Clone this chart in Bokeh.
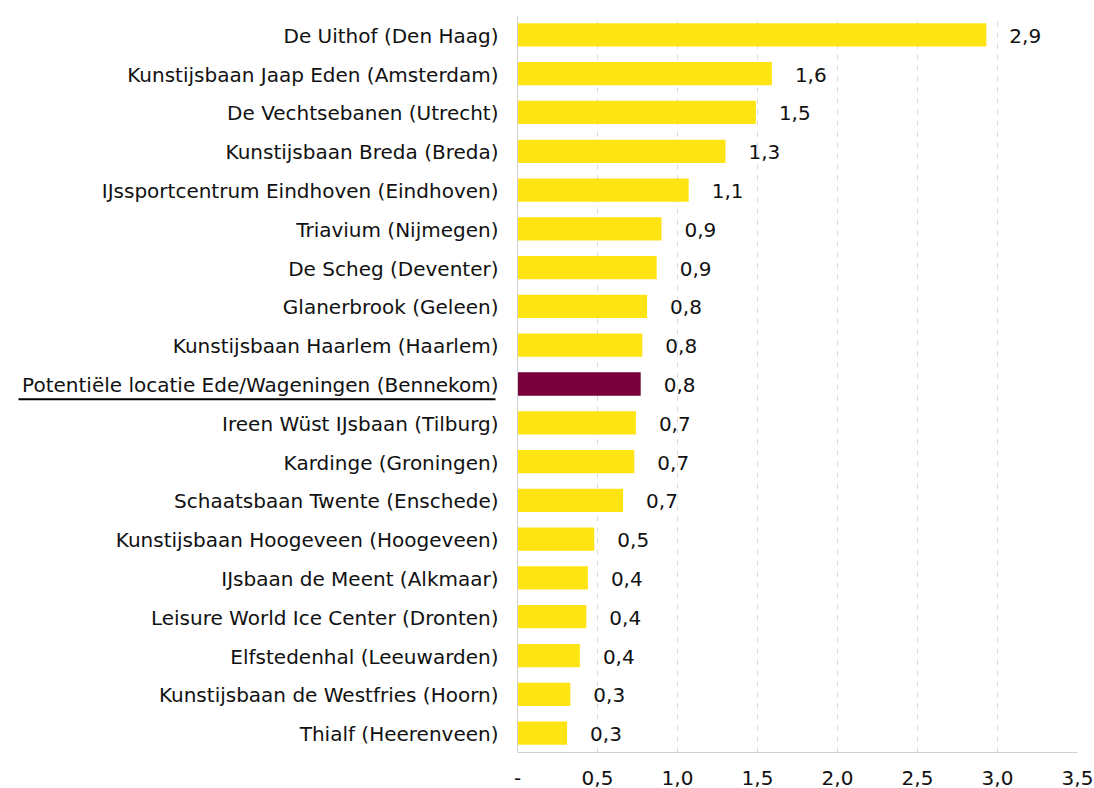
from bokeh.plotting import figure
from bokeh.models import (ColumnDataSource, Range1d, FactorRange, FixedTicker,
                          CustomJSTickFormatter, BoxAnnotation, Span)
from bokeh.embed import file_html
from bokeh.resources import INLINE
from bokeh.core.properties import value

# ---- data (top to bottom as in the chart) ----
categories = [
    "De Uithof (Den Haag)",
    "Kunstijsbaan Jaap Eden (Amsterdam)",
    "De Vechtsebanen (Utrecht)",
    "Kunstijsbaan Breda (Breda)",
    "IJssportcentrum Eindhoven (Eindhoven)",
    "Triavium (Nijmegen)",
    "De Scheg (Deventer)",
    "Glanerbrook (Geleen)",
    "Kunstijsbaan Haarlem (Haarlem)",
    "Potentiële locatie Ede/Wageningen (Bennekom)",
    "Ireen Wüst IJsbaan (Tilburg)",
    "Kardinge (Groningen)",
    "Schaatsbaan Twente (Enschede)",
    "Kunstijsbaan Hoogeveen (Hoogeveen)",
    "IJsbaan de Meent (Alkmaar)",
    "Leisure World Ice Center (Dronten)",
    "Elfstedenhal (Leeuwarden)",
    "Kunstijsbaan de Westfries (Hoorn)",
    "Thialf (Heerenveen)",
]
values = [2.93, 1.59, 1.49, 1.30, 1.07, 0.90, 0.87, 0.81, 0.78, 0.77,
          0.74, 0.73, 0.66, 0.48, 0.44, 0.43, 0.39, 0.33, 0.31]
highlight = "Potentiële locatie Ede/Wageningen (Bennekom)"
x_ticks = [0, 0.5, 1.0, 1.5, 2.0, 2.5, 3.0, 3.5]

YELLOW = "#FFE414"
MAROON = "#77003A"
FONT = "DejaVu Sans"
FSIZE = "20px"
TXT = "#111111"

# layout (pixels)
W, H = 1094, 788
LABEL_AREA = 517          # width left of the value axis, holding the category labels
PLOT_W = W - LABEL_AREA - 17

labels = [f"{v:.1f}".replace(".", ",") for v in values]
colors = [MAROON if c == highlight else YELLOW for c in categories]

src = ColumnDataSource(dict(cat=categories, val=values, lab=labels, col=colors))

x_end = x_ticks[-1]
x_start = -x_end * LABEL_AREA / PLOT_W   # room for the category labels inside the frame

p = figure(width=W, height=H, output_backend="svg", toolbar_location=None,
           y_range=FactorRange(factors=list(reversed(categories))),
           x_range=Range1d(x_start, x_end),
           min_border_left=0, min_border_right=17, min_border_top=15,
           min_border_bottom=36)
p.outline_line_color = None
p.background_fill_color = "white"
p.border_fill_color = "white"
p.yaxis.visible = False

# category labels
p.text(x=0, y="cat", text="cat", source=src, x_offset=-19, y_offset=1,
       text_align="right", text_baseline="middle",
       text_font=value(FONT), text_font_size=FSIZE, text_color=TXT)

p.hbar(y="cat", right="val", height=0.6, left=0, color="col", source=src,
       line_color=None)
p.text(x="val", y="cat", text="lab", source=src, x_offset=23, y_offset=1,
       text_align="left", text_baseline="middle",
       text_font=value(FONT), text_font_size=FSIZE, text_color=TXT)

# value axis
p.xaxis.ticker = FixedTicker(ticks=x_ticks)
p.xaxis.bounds = (0, x_end)
p.xaxis.formatter = CustomJSTickFormatter(
    code="return tick == 0 ? '-' : tick.toFixed(1).replace('.', ',');")
p.xaxis.axis_line_color = "#d0d0d0"
p.xaxis.major_tick_line_color = None
p.xaxis.minor_tick_line_color = None
p.xaxis.major_label_standoff = 12
p.xaxis.major_label_text_font = FONT
p.xaxis.major_label_text_font_size = FSIZE
p.xaxis.major_label_text_color = TXT

p.ygrid.grid_line_color = None
p.xgrid.grid_line_color = "#d9d9d9"
p.xgrid.grid_line_dash = "5 6"
p.xgrid.grid_line_width = 1
p.xgrid.ticker = FixedTicker(ticks=x_ticks[1:])

# category axis line
p.add_layout(Span(location=0, dimension="height", line_color="#d0d0d0", line_width=1))

# underline of the highlighted label
idx = len(categories) - 1 - categories.index(highlight)
p.add_layout(BoxAnnotation(left=18, right=495, left_units="screen", right_units="screen",
                           bottom=idx + 0.5 - 0.42, top=idx + 0.5 - 0.37,
                           fill_color="black", fill_alpha=1.0, line_color=None,
                           level="overlay"))

open("out.html", "w").write(file_html(p, INLINE))
